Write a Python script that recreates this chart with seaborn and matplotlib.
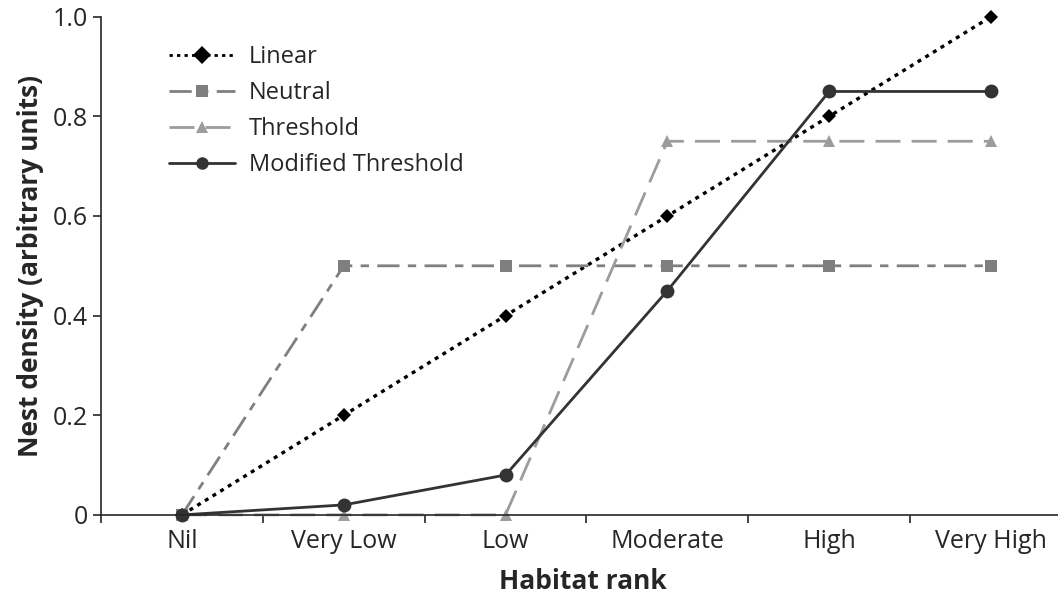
import numpy as np
import pandas as pd
import seaborn as sns
import matplotlib.pyplot as plt

# Chart data
ranks = ["Nil", "Very Low", "Low", "Moderate", "High", "Very High"]
linear = [0, 0.2, 0.4, 0.6, 0.8, 1.0]
neutral = [0, 0.5, 0.5, 0.5, 0.5, 0.5]
threshold = [0, 0, 0, 0.75, 0.75, 0.75]
modified = [0, 0.02, 0.08, 0.45, 0.85, 0.85]
models = ["Linear", "Neutral", "Threshold", "Modified Threshold"]

sns.set_style("ticks")
plt.rcParams["font.family"] = ["Open Sans", "DejaVu Sans"]

# Long-format table for seaborn
pos = np.arange(len(ranks))
df = pd.DataFrame({
    "pos": np.tile(pos, len(models)),
    "density": linear + neutral + threshold + modified,
    "model": np.repeat(models, len(ranks)),
})

palette = {"Linear": "#000000", "Neutral": "#7f7f7f",
           "Threshold": "#9c9c9c", "Modified Threshold": "#333333"}
markers = {"Linear": "D", "Neutral": "s", "Threshold": "^", "Modified Threshold": "o"}
dashes = {"Linear": (1.2, 1.5), "Neutral": (8, 3, 3, 3),
          "Threshold": (9, 4), "Modified Threshold": ""}

fig = plt.figure(figsize=(10.58, 5.98), dpi=100)
ax = fig.add_axes([0.0955, 0.139, 0.91, 0.833])

sns.lineplot(data=df, x="pos", y="density", hue="model", style="model",
             palette=palette, markers=markers, dashes=dashes,
             hue_order=models, style_order=models,
             linewidth=2, markersize=9, markeredgewidth=0, ax=ax)

# per-series tweaks: thicker dotted line, sizes of markers
for line in ax.lines:
    if line.get_marker() == "o":
        line.set_markersize(10)
    elif line.get_marker() == "D":
        line.set_markersize(7.5)
        line.set_linewidth(2.4)

ax.set_xlim(-0.5, 5.45)
ax.set_ylim(0, 1.0)
ax.set_xticks(np.arange(-0.5, 5.5, 1.0))
ax.set_xticklabels([])
ax.set_xticks(pos, minor=True)
ax.set_xticklabels(ranks, minor=True, fontsize=18)
ax.tick_params(axis="x", which="minor", length=0, pad=10)
ax.tick_params(axis="x", which="major", length=6, width=1.2, direction="out")
ax.set_yticks([0, 0.2, 0.4, 0.6, 0.8, 1.0])
ax.set_yticklabels(["0", "0.2", "0.4", "0.6", "0.8", "1.0"], fontsize=18)
ax.tick_params(axis="y", length=6, width=1.2)
for line in ax.lines:
    line.set_clip_on(False)

sns.despine(ax=ax)
for s in ["left", "bottom"]:
    ax.spines[s].set_linewidth(1.2)

ax.set_xlabel("Habitat rank", fontsize=19, fontweight="bold", labelpad=10)
ax.set_ylabel("Nest density (arbitrary units)", fontsize=19, fontweight="bold", labelpad=6)

sns.move_legend(ax, "upper left", bbox_to_anchor=(0.048, 0.985), frameon=False,
                title=None, fontsize=17, handlelength=2.8, handletextpad=0.6,
                labelspacing=0.5)

fig.savefig("out.png", dpi=100)
